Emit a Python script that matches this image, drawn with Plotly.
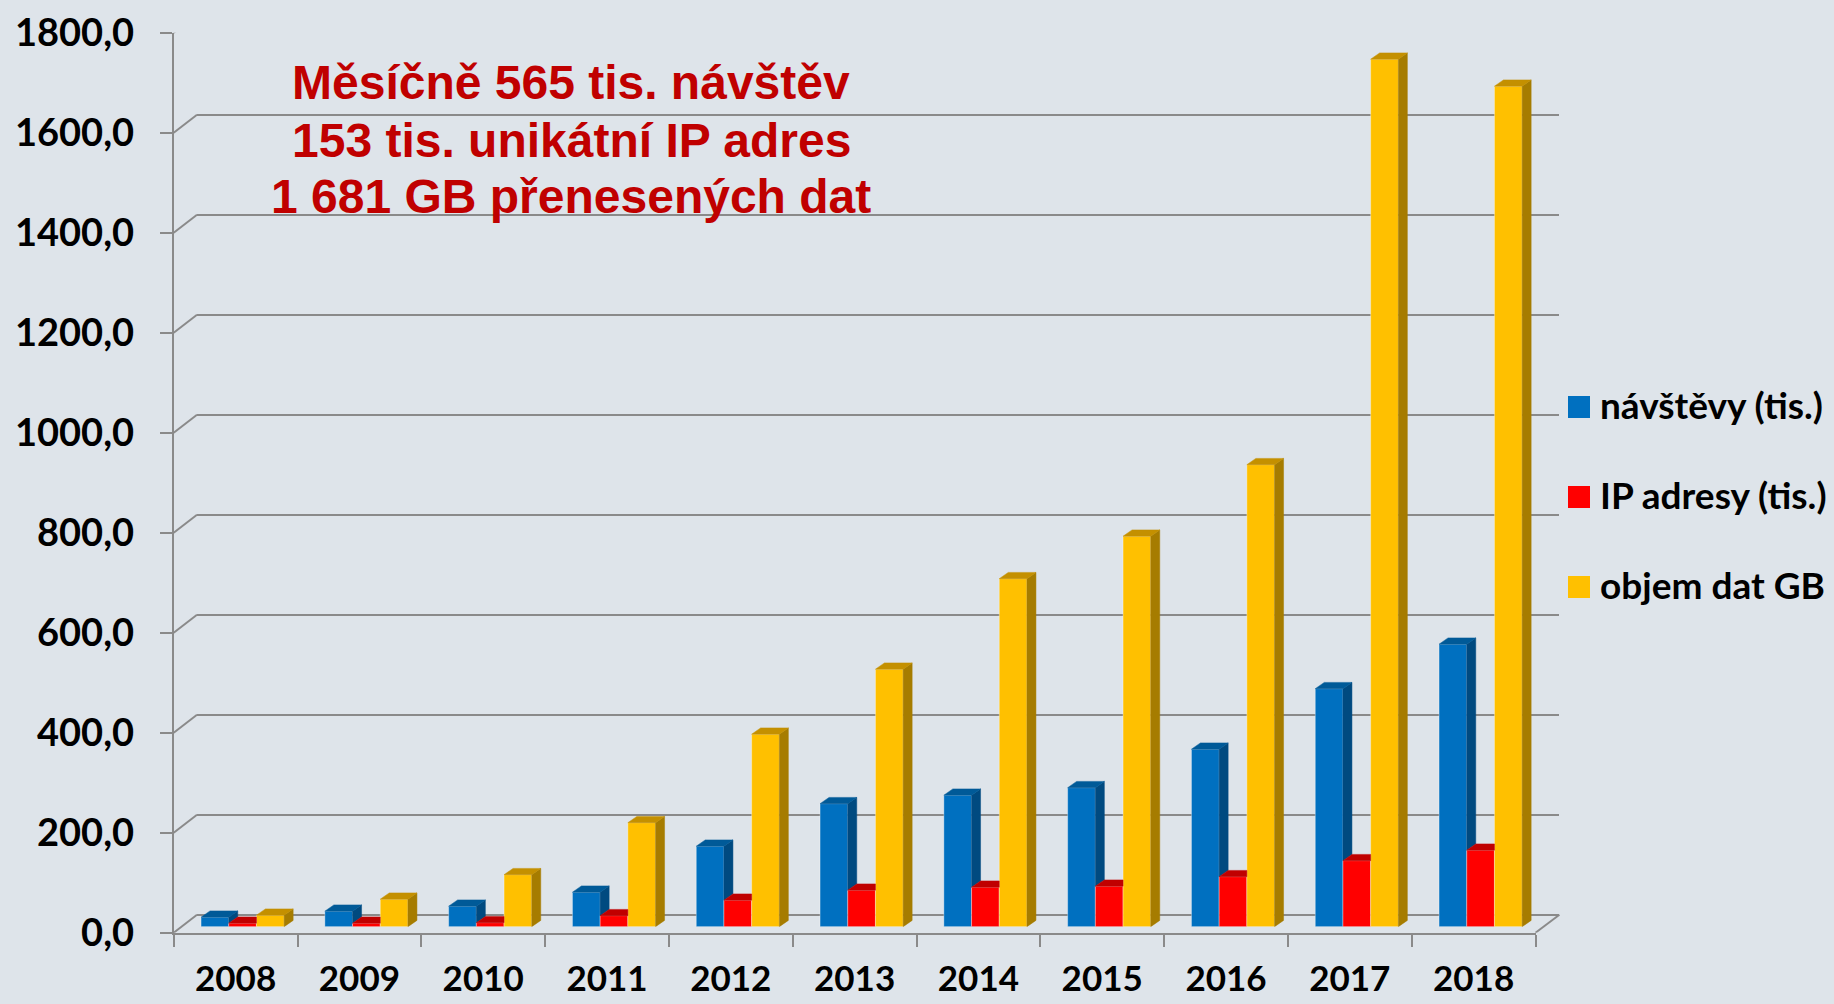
import plotly.graph_objects as go

# ---------------- data ----------------
years = [2008, 2009, 2010, 2011, 2012, 2013, 2014, 2015, 2016, 2017, 2018]
series_names = ["návštěvy (tis.)", "IP adresy (tis.)", "objem dat GB"]
visits = [19, 31, 41, 69, 161, 246, 263, 278, 355, 476, 565]
ip_addresses = [7, 7, 8, 22, 53, 73, 79, 81, 100, 132, 153]
data_volume = [23, 55, 104, 208, 385, 515, 696, 781, 924, 1735, 1681]
y_ticks = [0, 200, 400, 600, 800, 1000, 1200, 1400, 1600, 1800]
headline = ["Měsíčně 565 tis. návštěv", "153 tis. unikátní IP adres", "1 681 GB přenesených dat"]

# ---------------- styling ----------------
front_colors = ["#0070C0", "#FF0000", "#FFC000"]
side_colors = ["#004A80", "#B00000", "#A67C00"]
top_colors = ["#005A98", "#C00000", "#C49000"]
bg = "#DEE4EA"
grid_col = "#8A8A8A"

W, H = 1834, 1004


def fx(px):
    return px / W


def fy(py):
    return 1 - py / H


PX_CAT = 123.8          # pixels per category
PX_UNIT = 0.5           # pixels per value unit
BAR_PX = 27.7
DEPTH_X = 9.0 / PX_CAT  # depth of a bar, in category units
DEPTH_Y = 6.3 / PX_UNIT  # depth of a bar, in value units
w = BAR_PX / PX_CAT
offsets = [-1.5 * w, -0.5 * w, 0.5 * w]
all_series = [visits, ip_addresses, data_volume]

fig = go.Figure()

# dummy traces so that grid and front-axis subplots exist
fig.add_trace(go.Scatter(x=[None], y=[None], xaxis="x", yaxis="y",
                         showlegend=False, hoverinfo="skip"))
fig.add_trace(go.Scatter(x=[None], y=[None], xaxis="x3", yaxis="y3",
                         showlegend=False, hoverinfo="skip"))

# front faces (bars)
for s, vals in enumerate(all_series):
    fig.add_trace(go.Bar(
        x=years, y=vals, name=series_names[s], xaxis="x2", yaxis="y2",
        width=w, offset=offsets[s],
        marker=dict(color=front_colors[s], line=dict(color="rgba(255,255,255,0.35)", width=1)),
        showlegend=False,
    ))

# side and top faces, derived from the same values
for s, vals in enumerate(all_series):
    nxt = all_series[s + 1] if s + 1 < len(all_series) else None
    sx, sy, tx, ty = [], [], [], []
    for i, yr in enumerate(years):
        v = vals[i]
        xl = yr + offsets[s]
        xr = xl + w
        b = min(v, nxt[i]) if nxt is not None else 0
        if b < v:
            sx += [xr, xr + DEPTH_X, xr + DEPTH_X, xr, xr, None]
            sy += [b, b + DEPTH_Y, v + DEPTH_Y, v, b, None]
        if nxt is not None and nxt[i] > v:
            tx += [xl, xr, xr, xl + DEPTH_X, xl, None]
        else:
            tx += [xl, xr, xr + DEPTH_X, xl + DEPTH_X, xl, None]
        ty += [v, v, v + DEPTH_Y, v + DEPTH_Y, v, None]
    if sx:
        fig.add_trace(go.Scatter(x=sx, y=sy, xaxis="x2", yaxis="y2", mode="lines",
                                 fill="toself", fillcolor=side_colors[s],
                                 line=dict(color=side_colors[s], width=0.5),
                                 showlegend=False, hoverinfo="skip"))
    fig.add_trace(go.Scatter(x=tx, y=ty, xaxis="x2", yaxis="y2", mode="lines",
                             fill="toself", fillcolor=top_colors[s],
                             line=dict(color=top_colors[s], width=0.5),
                             showlegend=False, hoverinfo="skip"))

tick_font = dict(family="Lato", size=38, color="black", weight=700)
year_font = dict(family="Lato", size=35, color="black", weight=700)
rng_x = [years[0] - 0.5, years[-1] + 0.5]
rng_y = [y_ticks[0], y_ticks[-1]]

# back wall: x/y
back_x0, back_x1 = 197.0, 1559.4
front_x0 = 173.7
front_x1 = front_x0 + len(years) * PX_CAT
bars_x0 = 180.7
layout_axes = dict(
    xaxis=dict(domain=[fx(back_x0), fx(back_x1)], range=[0, 1], visible=False,
               anchor="y", automargin=False),
    yaxis=dict(domain=[fy(914.7), fy(14.7)], range=rng_y, anchor="x", automargin=False,
               tickmode="array", tickvals=y_ticks, showticklabels=False, ticks="",
               showgrid=True, gridcolor=grid_col, gridwidth=2,
               zeroline=True, zerolinecolor=grid_col, zerolinewidth=2, showline=False),
    xaxis2=dict(domain=[fx(bars_x0), fx(bars_x0 + len(years) * PX_CAT)], range=rng_x,
                anchor="y2", visible=False, automargin=False),
    yaxis2=dict(domain=[fy(926.7), fy(926.7 - 1800 * PX_UNIT)], range=rng_y,
                anchor="x2", visible=False, automargin=False),
    xaxis3=dict(domain=[fx(front_x0), fx(front_x1)], range=rng_x, anchor="y3",
                automargin=False,
                tickmode="array", tickvals=years, ticktext=[str(y) for y in years],
                ticks="", showgrid=False, zeroline=False,
                showline=True, linecolor=grid_col, linewidth=2,
                tickfont=year_font, ticklabelstandoff=14,
                minor=dict(tickmode="array",
                           tickvals=[y - 0.5 for y in years] + [years[-1] + 0.5],
                           ticks="outside", ticklen=12, tickwidth=2, tickcolor=grid_col)),
    yaxis3=dict(domain=[fy(932.7), fy(32.7)], range=rng_y, anchor="x3",
                automargin=False,
                tickmode="array", tickvals=y_ticks,
                ticktext=[f"{v:.1f}".replace(".", ",") for v in y_ticks],
                ticks="outside", ticklen=12, tickwidth=2, tickcolor=grid_col,
                showgrid=False, zeroline=False,
                showline=True, linecolor=grid_col, linewidth=2,
                tickfont=tick_font, ticklabelstandoff=18),
)

# left wall diagonals and right floor edge
shapes = []
wall_dy = 18.0 / PX_UNIT
for v in y_ticks:
    shapes.append(dict(type="line", xref="paper", yref="y3",
                       x0=fx(front_x0), y0=v, x1=fx(back_x0), y1=v + wall_dy,
                       line=dict(color=grid_col, width=2)))
shapes.append(dict(type="line", xref="paper", yref="y3",
                   x0=fx(front_x1), y0=0, x1=fx(back_x1), y1=wall_dy,
                   line=dict(color=grid_col, width=2)))

# legend (manual, to match large square keys)
legend_rows = [407, 497, 587]
annotations = []
for s, name in enumerate(series_names):
    cy = legend_rows[s]
    shapes.append(dict(type="rect", xref="paper", yref="paper",
                       x0=fx(1568), x1=fx(1590), y0=fy(cy + 11), y1=fy(cy - 11),
                       fillcolor=front_colors[s], line=dict(width=0)))
    annotations.append(dict(text=name, xref="paper", yref="paper", x=fx(1598), y=fy(cy - 3),
                            xanchor="left", yanchor="middle", showarrow=False,
                            font=dict(family="Lato", size=37, color="black", weight=700)))

# headline text
for line, cy in zip(headline, [82.5, 140, 196.7]):
    annotations.append(dict(text=line, xref="paper", yref="paper", x=fx(571), y=fy(cy),
                            xanchor="center", yanchor="middle", showarrow=False,
                            font=dict(family="Liberation Sans", size=48, color="#C00000",
                                      weight=700)))

fig.update_layout(
    width=W, height=H,
    margin=dict(l=0, r=0, t=0, b=0, autoexpand=False),
    paper_bgcolor=bg, plot_bgcolor="rgba(0,0,0,0)",
    barmode="overlay",
    showlegend=False,
    shapes=shapes,
    annotations=annotations,
    **layout_axes,
)

fig.write_html("out.html", config={"displayModeBar": False},
               post_script="document.body.style.margin='0';"
                           "document.body.style.overflow='hidden';")
